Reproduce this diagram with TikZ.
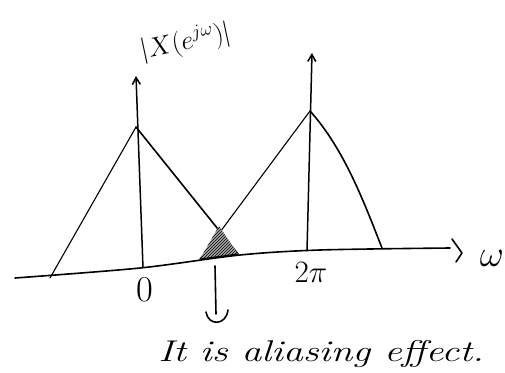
\documentclass[tikz,border=0pt]{standalone}
\usetikzlibrary{arrows.meta,patterns}
\begin{document}
\begin{tikzpicture}[x=1pt,y=-1pt,
  pen/.style={line width=1.6pt,line cap=round,line join=round},
  thinpen/.style={line width=1.1pt,line cap=round,line join=round},
  stem/.style={line width=1.5pt,-{Straight Barb[length=7pt,width=8pt]}},
  lbl/.style={inner sep=0pt}]
\useasboundingbox (0,0) rectangle (505,372);
% axis
\coordinate (ax0) at (15,278);
\coordinate (ax1) at (140,268);
\coordinate (ax2) at (240,255);
\coordinate (ax3) at (320,250);
\coordinate (ax4) at (450,248);
\draw[pen] plot[smooth] coordinates {(ax0) (ax1) (ax2) (ax3) (ax4)};
\coordinate (ch1) at (452,239);
\coordinate (ch2) at (462,253);
\coordinate (ch3) at (456,262);
\draw[pen] (ch1) -- (ch2) -- (ch3);
\node[lbl,font=\fontsize{24}{26}\selectfont,scale=1.5] (w) at (492,258) {$\omega$};
% left spectrum
\coordinate (lb) at (50,278);
\coordinate (lp) at (136,127);
\coordinate (lr) at (238,254);
\coordinate (lbase) at (143,268);
\coordinate (ltop) at (136,76);
\draw[thinpen] (lb) -- (lp);
\draw[pen] (lp) -- (lr);
\draw[stem] (lbase) -- (ltop);
% right spectrum
\coordinate (rl) at (200,259);
\coordinate (rp) at (310,111);
\coordinate (rr) at (382,248);
\coordinate (rbase) at (307,251);
\coordinate (rtop) at (312,53);
\draw[thinpen] (rl) -- (rp);
\draw[pen] (rp) .. controls (345,150) and (365,205) .. (rr);
\draw[stem] (rbase) -- (rtop);
% aliasing overlap
\coordinate (ix) at (219,226);
\fill[gray!70] (rl) -- (ix) -- (lr) -- cycle;
\fill[pattern=north east lines] (rl) -- (ix) -- (lr) -- cycle;
\draw[thinpen] (rl) -- (lr);
% pointer
\coordinate (pt) at (215,266);
\coordinate (pb) at (216,314);
\draw[pen] (pt) -- (pb);
\coordinate (u1) at (206,312);
\coordinate (u2) at (228,310);
\draw[pen] (u1) .. controls (208,326) and (226,326) .. (u2);
% labels
\node[lbl,font=\fontsize{28}{30}\selectfont,scale=1.3] (zero) at (145,290) {0};
\node[lbl,font=\fontsize{24}{26}\selectfont,scale=1.25] (twopi) at (311,272) {$2\pi$};
\node[lbl,rotate=12,font=\fontsize{24}{26}\selectfont,scale=1.08] (mag) at (186,42) {$|X(e^{j\omega})|$};
\node[lbl,font=\fontsize{30}{32}\selectfont\itshape,xscale=1.32,anchor=west] (note) at (158,354) {It is aliasing effect.};
\end{tikzpicture}
\end{document}
